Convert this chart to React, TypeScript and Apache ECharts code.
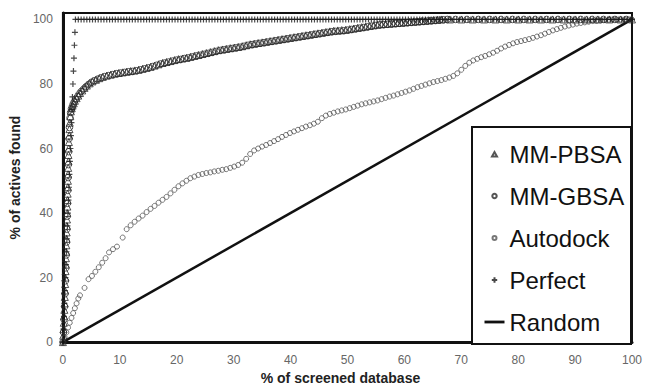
import React, { useEffect, useRef } from "react";
import * as echarts from "echarts";

const xTicks = [0, 10, 20, 30, 40, 50, 60, 70, 80, 90, 100];
const yTicks = [0, 20, 40, 60, 80, 100];

const pbsaPoints = [
  [0, 0], [0.05, 2], [0.1, 4], [0.15, 6], [0.2, 8], [0.25, 10], [0.3, 12], [0.33, 14], [0.36, 16], [0.4, 18],
  [0.43, 20], [0.46, 22], [0.5, 24], [0.53, 26], [0.56, 28], [0.6, 30], [0.63, 32], [0.66, 34], [0.7, 36], [0.72, 38],
  [0.75, 40], [0.78, 42], [0.8, 44], [0.83, 46], [0.86, 48], [0.88, 50], [0.9, 52], [0.93, 54], [0.96, 56], [0.98, 58],
  [1.0, 60], [1.05, 62], [1.1, 64], [1.15, 66], [1.2, 68], [1.3, 70], [1.4, 71.5], [1.55, 72.5], [1.7, 73.3], [1.9, 74],
  [2.1, 74.8], [2.4, 75.6], [2.7, 76.4], [3, 77.2], [3.4, 78], [3.8, 78.8], [4.2, 79.5], [4.7, 80.2], [5.2, 80.8], [5.8, 81.3],
  [6.4, 81.8], [7, 82.2], [7.7, 82.6], [8.4, 82.9], [9.1, 83.2], [9.8, 83.4], [10.5, 83.6], [11.2, 83.8], [11.9, 84], [12.6, 84.2],
  [13.3, 84.4], [14, 84.7], [14.7, 85], [15.4, 85.3], [16.1, 85.7], [16.8, 86.1], [17.5, 86.5], [18.2, 86.8], [18.9, 87.1], [19.6, 87.4],
  [20.3, 87.7], [21, 87.9], [21.7, 88.1], [22.4, 88.4], [23.1, 88.7], [23.8, 89], [24.5, 89.3], [25.2, 89.6], [25.9, 89.9], [26.6, 90.2],
  [27.3, 90.5], [28, 90.7], [28.7, 90.9], [29.4, 91.1], [30.1, 91.3], [30.8, 91.5], [31.5, 91.7], [32.2, 92], [32.9, 92.3], [33.6, 92.5],
  [34.3, 92.7], [35, 92.9], [35.7, 93.1], [36.4, 93.3], [37.1, 93.5], [37.8, 93.7], [38.5, 93.9], [39.2, 94.1], [39.9, 94.3], [40.6, 94.5],
  [41.3, 94.7], [42, 94.9], [42.7, 95.1], [43.4, 95.3], [44.1, 95.5], [44.8, 95.7], [45.5, 95.9], [46.2, 96.1], [46.9, 96.3], [47.6, 96.5],
  [48.3, 96.6], [49, 96.7], [49.7, 96.8], [50.4, 97], [51.1, 97.2], [51.8, 97.4], [52.5, 97.6], [53.2, 97.8], [53.9, 98], [54.6, 98.2],
  [55.3, 98.4], [56, 98.5], [56.7, 98.6], [57.4, 98.7], [58.1, 98.8], [58.8, 98.9], [59.5, 99], [60.2, 99.1], [60.9, 99.2], [61.6, 99.3],
  [62.3, 99.4], [63, 99.5], [63.7, 99.6], [64.4, 99.7], [65.1, 99.8], [65.8, 99.9], [66.5, 100], [68, 100], [70, 100], [72, 100],
  [74, 100], [76, 100], [78, 100], [80, 100], [82, 100], [84, 100], [86, 100], [88, 100], [90, 100], [92, 100],
  [94, 100], [96, 100], [98, 100], [100, 100],
];

const gbsaPoints = [
  [0, 0], [0.1, 3], [0.2, 7], [0.3, 11], [0.38, 15], [0.45, 19], [0.52, 23], [0.58, 27], [0.64, 31], [0.7, 35],
  [0.76, 39], [0.82, 43], [0.87, 47], [0.92, 51], [0.97, 55], [1.02, 59], [1.08, 63], [1.15, 66.5], [1.25, 69.5], [1.35, 71.2],
  [1.5, 72.3], [1.65, 73], [1.8, 73.8], [2, 74.5], [2.25, 75.3], [2.55, 76.1], [2.85, 76.9], [3.2, 77.7], [3.6, 78.4], [4, 79.1],
  [4.45, 79.8], [4.95, 80.5], [5.5, 81], [6.1, 81.5], [6.7, 81.9], [7.35, 82.3], [8.05, 82.6], [8.75, 82.9], [9.45, 83.2], [10.15, 83.4],
  [10.85, 83.6], [11.55, 83.8], [12.25, 83.9], [12.95, 84.1], [13.65, 84.4], [14.35, 84.7], [15.05, 85], [15.75, 85.4], [16.45, 85.8], [17.15, 86.2],
  [17.85, 86.5], [18.55, 86.8], [19.25, 87.1], [19.95, 87.4], [20.65, 87.6], [21.35, 87.9], [22.05, 88.1], [22.75, 88.4], [23.45, 88.7], [24.15, 88.9],
  [24.85, 89.2], [25.55, 89.5], [26.25, 89.8], [26.95, 90.1], [27.65, 90.4], [28.35, 90.6], [29.05, 90.8], [29.75, 91], [30.45, 91.2], [31.15, 91.4],
  [31.85, 91.7], [32.55, 92], [33.25, 92.2], [33.95, 92.4], [34.65, 92.6], [35.35, 92.8], [36.05, 93], [36.75, 93.2], [37.45, 93.4], [38.15, 93.6],
  [38.85, 93.8], [39.55, 94], [40.25, 94.2], [40.95, 94.4], [41.65, 94.6], [42.35, 94.8], [43.05, 95], [43.75, 95.2], [44.45, 95.4], [45.15, 95.6],
  [45.85, 95.8], [46.55, 96], [47.25, 96.2], [47.95, 96.3], [48.65, 96.4], [49.35, 96.5], [50.05, 96.7], [50.75, 96.9], [51.45, 97.1], [52.15, 97.3],
  [52.85, 97.5], [53.55, 97.7], [54.25, 97.9], [54.95, 98.1], [55.65, 98.3], [56.35, 98.4], [57.05, 98.5], [57.75, 98.6], [58.45, 98.7], [59.15, 98.8],
  [59.85, 98.9], [60.55, 99], [61.25, 99.1], [61.95, 99.2], [62.65, 99.3], [63.35, 99.4], [64.05, 99.5], [64.75, 99.6], [65.45, 99.7], [66.15, 99.8],
  [66.85, 99.9], [67.55, 100], [69, 100], [71, 100], [73, 100], [75, 100], [77, 100], [79, 100], [81, 100], [83, 100],
  [85, 100], [87, 100], [89, 100], [91, 100], [93, 100], [95, 100], [97, 100], [99, 100],
];

const autodockPoints = [
  [0, 0], [0.3, 1.5], [0.6, 3], [0.9, 4.5], [1.2, 6], [1.5, 7.5], [1.8, 9], [2.1, 10.5], [2.4, 12], [2.7, 13.5],
  [3.0, 14.5], [3.8, 16.8], [4.5, 19.5], [5.1, 20.5], [5.7, 21.8], [6.3, 23.2], [6.9, 24.6], [7.5, 26], [8.1, 27.8], [8.8, 28.8],
  [9.5, 29.6], [10.5, 32.4], [11.2, 35], [11.9, 36.2], [12.6, 37.3], [13.3, 38.3], [14, 39.2], [14.7, 40.3], [15.4, 41.3], [16.1, 42.2],
  [16.8, 43.2], [17.5, 44.1], [18.2, 45], [18.9, 46.1], [19.6, 47.2], [20.3, 48.3], [21, 49.2], [21.7, 50], [22.4, 50.8], [23.1, 51.3],
  [23.8, 51.8], [24.5, 52.1], [25.2, 52.4], [25.9, 52.6], [26.6, 52.9], [27.3, 53.1], [28, 53.4], [28.7, 53.6], [29.4, 54], [30.1, 54.4],
  [30.8, 54.9], [31.5, 55.6], [32.2, 56.8], [32.9, 58.3], [33.6, 59.4], [34.3, 60], [35, 60.6], [35.7, 61.1], [36.4, 61.7], [37.1, 62.3],
  [37.8, 62.9], [38.5, 63.6], [39.2, 64.2], [39.9, 64.8], [40.6, 65.3], [41.3, 65.8], [42, 66.3], [42.7, 66.8], [43.4, 67.2], [44.1, 67.7],
  [44.8, 68.3], [45.5, 69.4], [46.2, 70.2], [46.9, 70.7], [47.6, 71.1], [48.3, 71.5], [49, 71.8], [49.7, 72.1], [50.4, 72.5], [51.1, 72.9],
  [51.8, 73.3], [52.5, 73.7], [53.2, 74], [53.9, 74.3], [54.6, 74.6], [55.3, 74.9], [56, 75.3], [56.7, 75.7], [57.4, 76.1], [58.1, 76.4],
  [58.8, 76.8], [59.5, 77.2], [60.2, 77.6], [60.9, 78], [61.6, 78.5], [62.3, 79], [63, 79.4], [63.7, 79.8], [64.4, 80.2], [65.1, 80.6],
  [65.8, 80.9], [66.5, 81.2], [67.2, 81.6], [67.9, 82], [68.6, 82.5], [69.3, 83.3], [70, 84.4], [70.7, 85.6], [71.4, 86.6], [72.1, 87.3],
  [72.8, 87.8], [73.5, 88.3], [74.2, 88.7], [74.9, 89.2], [75.6, 89.7], [76.3, 90.3], [77, 91], [77.7, 91.6], [78.4, 92.1], [79.1, 92.6],
  [79.8, 93], [80.5, 93.3], [81.2, 93.6], [81.9, 93.9], [82.6, 94.3], [83.3, 94.7], [84, 95.1], [84.7, 95.6], [85.4, 96.1], [86.1, 96.6],
  [86.8, 97], [87.5, 97.4], [88.2, 97.8], [88.9, 98.1], [89.6, 98.4], [90.3, 98.7], [91, 98.9], [91.7, 99.1], [92.4, 99.3], [93.1, 99.5],
  [93.8, 99.6], [94.5, 99.7], [95.2, 99.8], [95.9, 99.9], [96.6, 100], [97.3, 100], [98, 100], [98.7, 100], [99.4, 100], [100, 100],
];

const perfectRise = [
  [0, 0], [0.09, 4], [0.18, 8], [0.26, 12], [0.35, 16], [0.44, 20], [0.53, 24], [0.62, 28], [0.7, 32], [0.79, 36],
  [0.88, 40], [0.97, 44], [1.06, 48], [1.14, 52], [1.23, 56], [1.32, 60], [1.41, 64], [1.5, 68], [1.58, 72], [1.67, 76],
  [1.76, 80], [1.85, 84], [1.94, 88], [2.02, 92], [2.11, 96], [2.2, 100],
];

const perfectTopX = [
  2.7, 3.2, 3.7, 4.2, 4.7, 5.2, 5.7, 6.2, 6.7, 7.2, 7.7, 8.2, 8.7, 9.2, 9.7, 10.2, 10.7, 11.2, 11.7, 12.2,
  12.7, 13.2, 13.7, 14.2, 14.7, 15.2, 15.7, 16.2, 16.7, 17.2, 17.7, 18.2, 18.7, 19.2, 19.7, 20.2, 20.7, 21.2, 21.7, 22.2,
  22.7, 23.2, 23.7, 24.2, 24.7, 25.2, 25.7, 26.2, 26.7, 27.2, 27.7, 28.2, 28.7, 29.2, 29.7, 30.2, 30.7, 31.2, 31.7, 32.2,
  32.7, 33.2, 33.7, 34.2, 34.7, 35.2, 35.7, 36.2, 36.7, 37.2, 37.7, 38.2, 38.7, 39.2, 39.7, 40.2, 40.7, 41.2, 41.7, 42.2,
  42.7, 43.2, 43.7, 44.2, 44.7, 45.2, 45.7, 46.2, 46.7, 47.2, 47.7, 48.2, 48.7, 49.2, 49.7, 50.2, 50.7, 51.2, 51.7, 52.2,
  52.7, 53.2, 53.7, 54.2, 54.7, 55.2, 55.7, 56.2, 56.7, 57.2, 57.7, 58.2, 58.7, 59.2, 59.7, 60.2, 60.7, 61.2, 61.7, 62.2,
  62.7, 63.2, 63.7, 64.2, 64.7, 65.2, 65.7, 66.2, 66.7, 67.2, 67.7, 68.2, 68.7, 69.2, 69.7, 70.2, 70.7, 71.2, 71.7, 72.2,
  72.7, 73.2, 73.7, 74.2, 74.7, 75.2, 75.7, 76.2, 76.7, 77.2, 77.7, 78.2, 78.7, 79.2, 79.7, 80.2, 80.7, 81.2, 81.7, 82.2,
  82.7, 83.2, 83.7, 84.2, 84.7, 85.2, 85.7, 86.2, 86.7, 87.2, 87.7, 88.2, 88.7, 89.2, 89.7, 90.2, 90.7, 91.2, 91.7, 92.2,
  92.7, 93.2, 93.7, 94.2, 94.7, 95.2, 95.7, 96.2, 96.7, 97.2, 97.7, 98.2, 98.7, 99.2, 99.7, 100,
];
const perfectTopY = 100;

const randomPoints = [[0, 0], [100, 100]];

const seriesNames = ["MM-PBSA", "MM-GBSA", "Autodock", "Perfect", "Random"];

const FONT = "'Liberation Sans', Arial, Helvetica, sans-serif";
const CROSS = "path://M5 0V10M0 5H10";
// Legend icons: the leading moves stretch the bounding box to the 20x6 item box,
// so the drawn mark stays small and centred.
const ICON_TRIANGLE = "path://M0 0M20 6M7.5 5.5L10 1L12.5 5.5Z";
const ICON_CIRCLE = "path://M0 0M20 6M12.2 3A2.2 2.2 0 1 1 7.8 3A2.2 2.2 0 1 1 12.2 3Z";
const ICON_SMALL_CIRCLE = "path://M0 0M20 6M12 3A2 2 0 1 1 8 3A2 2 0 1 1 12 3Z";
const ICON_CROSS = "path://M0 0M20 6M10 0.3V5.7M7.3 3H12.7";
const ICON_LINE = "path://M0 0M20 6M0 1.6H20V4.4H0Z";

export default function App() {
  const ref = useRef<HTMLDivElement>(null);

  useEffect(() => {
    if (!ref.current) return;
    const chart = echarts.init(ref.current, null, { renderer: "svg" });
    const perfectData = [...perfectRise, ...perfectTopX.map((x) => [x, perfectTopY])];
    const legendIcons = [ICON_TRIANGLE, ICON_CIRCLE, ICON_SMALL_CIRCLE, ICON_CROSS, ICON_LINE];

    chart.setOption({
      animation: false,
      backgroundColor: "#ffffff",
      grid: {
        left: 58,
        right: 9,
        top: 13,
        bottom: 40,
        show: true,
        borderColor: "#111",
        borderWidth: 2,
        backgroundColor: "#ffffff",
      },
      xAxis: {
        type: "value",
        min: xTicks[0],
        max: xTicks[xTicks.length - 1],
        interval: 10,
        name: "% of screened database",
        nameLocation: "middle",
        nameGap: 25,
        nameTextStyle: {
          fontFamily: FONT,
          fontSize: 14,
          fontWeight: "bold",
          color: "#222",
          padding: [0, 14, 0, 0],
        },
        axisLine: { show: true, onZero: false, lineStyle: { color: "#111", width: 3 } },
        axisTick: { show: false },
        splitLine: { show: false },
        axisLabel: { fontFamily: FONT, fontSize: 12, color: "#666", margin: 12 },
      },
      yAxis: {
        type: "value",
        min: yTicks[0],
        max: 102,
        interval: 20,
        name: "% of actives found",
        nameLocation: "middle",
        nameGap: 34,
        nameTextStyle: {
          fontFamily: FONT,
          fontSize: 14,
          fontWeight: "bold",
          color: "#222",
        },
        axisLine: { show: true, onZero: false, lineStyle: { color: "#111", width: 3 } },
        axisTick: { show: false },
        splitLine: { show: false },
        axisLabel: { fontFamily: FONT, fontSize: 12, color: "#666", margin: 10, showMaxLabel: false },
      },
      legend: {
        orient: "vertical",
        left: 477,
        top: 137,
        itemWidth: 20,
        itemHeight: 6,
        itemGap: 18,
        z: 30,
        data: seriesNames.map((name, i) => ({ name, icon: legendIcons[i] })),
        textStyle: { fontFamily: FONT, fontSize: 24, color: "#111" },
      },
      graphic: [
        {
          type: "rect",
          left: 471,
          top: 126,
          shape: { width: 159, height: 217 },
          style: { fill: "#fff", stroke: "#111", lineWidth: 2 },
          z: 10,
        },
      ],
      series: [
        {
          name: "Random",
          type: "line",
          data: randomPoints,
          symbol: "none",
          itemStyle: { color: "#111" },
          lineStyle: { color: "#111", width: 2.5 },
          z: 1,
        },
        {
          name: "Autodock",
          type: "scatter",
          data: autodockPoints,
          symbol: "circle",
          symbolSize: 5,
          itemStyle: { color: "rgba(255,255,255,0)", borderColor: "#555", borderWidth: 1 },
          z: 2,
        },
        {
          name: "MM-GBSA",
          type: "scatter",
          data: gbsaPoints,
          symbol: "circle",
          symbolSize: 6.5,
          itemStyle: { color: "rgba(255,255,255,0)", borderColor: "#2a2a2a", borderWidth: 1 },
          z: 3,
        },
        {
          name: "MM-PBSA",
          type: "scatter",
          data: pbsaPoints,
          symbol: "triangle",
          symbolSize: 7,
          itemStyle: { color: "rgba(255,255,255,0)", borderColor: "#2a2a2a", borderWidth: 1 },
          z: 4,
        },
        {
          name: "Perfect",
          type: "scatter",
          data: perfectData,
          symbol: CROSS,
          symbolSize: 6,
          itemStyle: { color: "none", borderColor: "#1a1a1a", borderWidth: 1.2 },
          z: 5,
        },
      ],
    });
    return () => chart.dispose();
  }, []);

  return (
    <div
      ref={ref}
      style={{ position: "fixed", left: 0, top: 0, width: 645, height: 390, background: "#fff" }}
    />
  );
}
